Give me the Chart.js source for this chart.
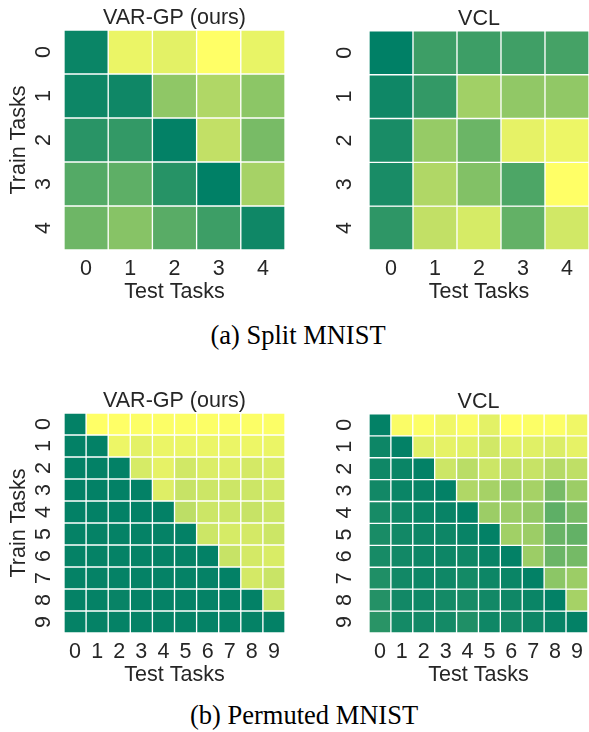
<!DOCTYPE html>
<html>
<head>
<meta charset="utf-8">
<script src="https://cdn.jsdelivr.net/npm/chart.js@4/dist/chart.umd.min.js"></script>
<style>
  html, body { margin: 0; padding: 0; background: #fff; }
  body { width: 589px; height: 732px; position: relative; overflow: hidden; }
  canvas { position: absolute; }
  .cap { position: absolute; font-family: "Liberation Serif", "Times New Roman", serif; font-size: 26.5px; line-height: 26.5px; color: #000; white-space: nowrap; transform: translateX(-50%); }
</style>
</head>
<body>
<canvas id="c1" width="295" height="305" style="left:0;top:0"></canvas>
<canvas id="c2" width="289" height="305" style="left:300px;top:0"></canvas>
<canvas id="c3" width="295" height="305" style="left:0;top:383px"></canvas>
<canvas id="c4" width="289" height="305" style="left:300px;top:383px"></canvas>
<div class="cap" style="left:298px;top:321.5px">(a) Split MNIST</div>
<div class="cap" style="left:304px;top:701.5px">(b) Permuted MNIST</div>
<script>
// ---- data (colour intensity: 1 = dark green, 0 = yellow; summer_r colormap) ----
const splitTasks = ['0', '1', '2', '3', '4'];
const permTasks = ['0', '1', '2', '3', '4', '5', '6', '7', '8', '9'];

const splitVargp = [
  [0.96, 0.08, 0.11, 0.00, 0.09],
  [0.95, 0.94, 0.44, 0.31, 0.45],
  [0.84, 0.80, 0.99, 0.24, 0.53],
  [0.67, 0.63, 0.85, 1.00, 0.35],
  [0.57, 0.47, 0.65, 0.76, 0.94]
];

const splitVcl = [
  [1.00, 0.76, 0.76, 0.75, 0.73],
  [0.94, 0.80, 0.37, 0.43, 0.43],
  [0.90, 0.41, 0.58, 0.10, 0.07],
  [0.90, 0.31, 0.49, 0.70, 0.00],
  [0.82, 0.24, 0.16, 0.61, 0.18]
];

const permVargp = [
  [0.99, 0.00, 0.00, 0.01, 0.01, 0.01, 0.01, 0.01, 0.01, 0.01],
  [0.99, 0.99, 0.07, 0.11, 0.08, 0.08, 0.08, 0.08, 0.07, 0.08],
  [0.99, 0.99, 0.99, 0.16, 0.10, 0.18, 0.14, 0.13, 0.17, 0.15],
  [0.99, 0.99, 0.99, 0.99, 0.13, 0.22, 0.20, 0.20, 0.20, 0.18],
  [0.99, 0.99, 0.99, 0.99, 0.99, 0.26, 0.20, 0.20, 0.22, 0.20],
  [0.98, 0.98, 0.98, 0.98, 0.98, 0.99, 0.20, 0.16, 0.17, 0.20],
  [0.98, 0.98, 0.98, 0.98, 0.98, 0.98, 0.99, 0.22, 0.17, 0.15],
  [0.98, 0.98, 0.98, 0.98, 0.98, 0.98, 0.98, 0.99, 0.17, 0.21],
  [0.98, 0.98, 0.97, 0.98, 0.98, 0.98, 0.98, 0.98, 0.99, 0.21],
  [0.98, 0.98, 0.98, 0.98, 0.98, 0.98, 0.98, 0.98, 0.98, 0.99]
];

const permVcl = [
  [0.99, 0.02, 0.01, 0.06, 0.02, 0.11, 0.00, 0.01, 0.01, 0.06],
  [0.95, 0.99, 0.12, 0.10, 0.12, 0.18, 0.12, 0.12, 0.14, 0.10],
  [0.94, 0.96, 0.99, 0.20, 0.27, 0.20, 0.25, 0.22, 0.29, 0.25],
  [0.93, 0.96, 0.97, 0.99, 0.31, 0.35, 0.41, 0.35, 0.53, 0.39],
  [0.91, 0.94, 0.96, 0.97, 0.99, 0.39, 0.39, 0.42, 0.63, 0.53],
  [0.90, 0.93, 0.95, 0.95, 0.97, 0.99, 0.37, 0.39, 0.59, 0.61],
  [0.91, 0.93, 0.95, 0.95, 0.94, 0.97, 0.99, 0.39, 0.58, 0.54],
  [0.88, 0.93, 0.95, 0.94, 0.92, 0.95, 0.96, 0.99, 0.45, 0.39],
  [0.86, 0.93, 0.94, 0.92, 0.91, 0.93, 0.94, 0.96, 0.99, 0.35],
  [0.84, 0.92, 0.93, 0.92, 0.88, 0.94, 0.93, 0.95, 0.97, 0.99]
];

// summer_r colormap
function summerR(v) {
  const t = 1 - Math.max(0, Math.min(1, v));
  const r = Math.round(255 * t);
  const g = Math.round(255 * (0.5 + 0.5 * t));
  return `rgb(${r},${g},102)`;
}

const FONT = "'Liberation Sans', Arial, sans-serif";
const TXT = '#262626';

function heatmap(id, title, labels, matrix, opts) {
  const n = labels.length;
  const datasets = matrix.map((row, r) => ({
    label: 'row ' + r,
    data: row.map(() => [r, r + 1]),
    backgroundColor: row.map(summerR),
    borderColor: '#ffffff',
    borderWidth: 1,
    borderSkipped: false,
    grouped: false,
    barPercentage: 1,
    categoryPercentage: 1
  }));
  return new Chart(document.getElementById(id), {
    type: 'bar',
    data: { labels: labels, datasets: datasets },
    options: {
      responsive: false,
      animation: false,
      events: [],
      layout: { padding: { left: 0, right: opts.padRight, top: 0, bottom: 0 } },
      plugins: {
        legend: { display: false },
        tooltip: { enabled: false },
        title: { display: false }
      },
      scales: {
        x: {
          type: 'category',
          offset: true,
          grid: { display: false, drawTicks: false },
          border: { display: false },
          ticks: {
            color: TXT, autoSkip: false, maxRotation: 0, minRotation: 0,
            padding: 6,
            font: { family: FONT, size: 21.5, lineHeight: 1.2 }
          },
          title: {
            display: true, text: 'Test Tasks', color: TXT,
            font: { family: FONT, size: 21.5, lineHeight: 1.2 },
            padding: { top: 0, bottom: 0 }
          },
          afterFit: (s) => { s.height = 55; }
        },
        xTop: {
          type: 'category',
          position: 'top',
          offset: true,
          grid: { display: false, drawTicks: false },
          border: { display: false },
          ticks: { display: false },
          title: {
            display: true, text: title, color: TXT,
            font: { family: FONT, size: 21.5, lineHeight: 1.0 },
            padding: { top: 7, bottom: 0 }
          },
          afterFit: (s) => { s.height = 30; }
        },
        y: {
          type: 'linear',
          min: 0, max: n, reverse: true,
          grid: { display: false, drawTicks: false },
          border: { display: false },
          afterBuildTicks: (s) => { s.ticks = labels.map((_, i) => ({ value: i + 0.5 })); },
          ticks: {
            color: TXT, autoSkip: false, minRotation: 90, maxRotation: 90,
            crossAlign: 'center',
            padding: opts.yTickPad,
            font: { family: FONT, size: 21.5, lineHeight: 1.2 },
            callback: (v) => labels[Math.floor(v)]
          },
          title: {
            display: opts.yTitle,
            text: 'Train Tasks', color: TXT,
            font: { family: FONT, size: 21.5, lineHeight: 1.2 },
            padding: { top: 6, bottom: 0 }
          },
          afterFit: (s) => { s.width = opts.yWidth; }
        }
      }
    }
  });
}

heatmap('c1', 'VAR-GP (ours)', splitTasks, splitVargp, { padRight: 10, yWidth: 64, yTickPad: 14, yTitle: true });
heatmap('c2', 'VCL', splitTasks, splitVcl, { padRight: 0, yWidth: 69, yTickPad: 18, yTitle: false });
heatmap('c3', 'VAR-GP (ours)', permTasks, permVargp, { padRight: 10, yWidth: 64, yTickPad: 14, yTitle: true });
heatmap('c4', 'VCL', permTasks, permVcl, { padRight: 0, yWidth: 69, yTickPad: 18, yTitle: false });
</script>
</body>
</html>
